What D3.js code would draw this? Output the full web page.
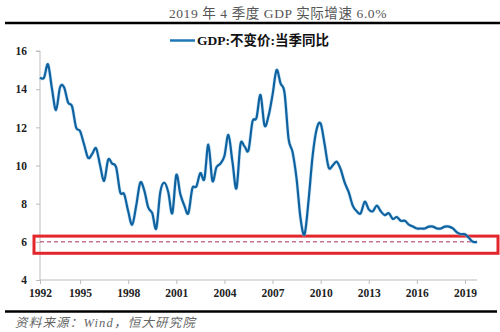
<!DOCTYPE html>
<html>
<head>
<meta charset="utf-8">
<script src="https://cdn.jsdelivr.net/npm/d3@7/dist/d3.min.js"></script>
<style>
  html, body { margin: 0; padding: 0; background: #fff; }
  svg { display: block; }
</style>
</head>
<body>
<svg id="chart" width="500" height="332"></svg>
<script>
// China real GDP, quarterly YoY growth (%), 1992Q3 – 2019Q4
const startYear = 1992;
const startQuarter = 3;
const gdpYoY = [
  14.6, 14.6, 15.3, 14.0, 12.9, 14.1, 14.1, 13.3, 13.1, 12.0,
  11.8, 11.1, 10.4, 10.6, 10.9, 10.0, 9.2, 10.3, 10.1, 9.9,
  8.6, 8.5, 7.6, 6.9, 7.9, 9.1, 8.7, 7.8, 7.5, 6.7,
  8.6, 9.1, 8.6, 7.5, 9.5, 8.5, 7.9, 7.5, 8.8, 8.9,
  9.6, 9.3, 11.1, 9.2, 9.9, 10.1, 10.5, 11.6, 10.2, 8.8,
  11.1, 11.0, 10.8, 12.3, 12.5, 13.7, 12.1, 12.6, 13.7, 15.0,
  14.3, 13.8, 11.4, 10.7, 9.3, 7.2, 6.4, 8.2, 10.5, 11.9,
  12.2, 11.1, 9.9, 10.0, 10.2, 9.8, 9.1, 8.6, 7.9, 7.6,
  7.5, 8.1, 7.7, 7.6, 7.9, 7.6, 7.4, 7.5, 7.2, 7.3,
  7.1, 7.1, 6.9, 6.8, 6.7, 6.7, 6.7, 6.8, 6.8, 6.7,
  6.7, 6.8, 6.8, 6.7, 6.5, 6.4, 6.4, 6.2, 6.0, 6.0
];
const yTicks = [4, 6, 8, 10, 12, 14, 16];
const tickYears = ["1992", "1995", "1998", "2001", "2004", "2007", "2010", "2013", "2016", "2019"];
const referenceLevel = 6.0;
const bandRange = [5.4, 6.3];

const titleText = "2019 年 4 季度 GDP 实际增速 6.0%";
const legendText = "GDP:不变价:当季同比";
const sourceText = "资料来源：Wind，恒大研究院";

// quarter labels for each observation
const quarters = gdpYoY.map((_, i) => {
  const q = startQuarter - 1 + i;
  return { year: startYear + Math.floor(q / 4), q: (q % 4) + 1 };
});

const svg = d3.select("#chart");
const serif = "'Liberation Serif', 'Times New Roman', 'Noto Sans CJK SC', serif";

const x = d3.scaleLinear().domain([0, gdpYoY.length - 1]).range([40, 477]);
const y = d3.scaleLinear().domain([4, 16]).range([280, 51]);

// header
svg.append("text")
  .attr("x", 278).attr("y", 18)
  .attr("text-anchor", "middle")
  .attr("font-family", serif)
  .attr("font-size", 13.5)
  .attr("fill", "#555")
  .attr("letter-spacing", 0.6)
  .text(titleText);

svg.append("line")
  .attr("x1", 5).attr("x2", 500).attr("y1", 23).attr("y2", 23)
  .attr("stroke", "#000").attr("stroke-width", 2.5);

// legend
svg.append("line")
  .attr("x1", 170).attr("x2", 195).attr("y1", 40.5).attr("y2", 40.5)
  .attr("stroke", "#1f78b8").attr("stroke-width", 2.5);
svg.append("text")
  .attr("x", 197).attr("y", 45)
  .attr("font-family", serif)
  .attr("font-size", 13.5)
  .attr("font-weight", "bold")
  .attr("fill", "#111")
  .text(legendText);

// y axis
const yAxis = svg.append("g")
  .attr("transform", "translate(40,0)")
  .call(d3.axisLeft(y).tickValues(yTicks).tickSize(4).tickPadding(9).tickFormat(d3.format("d")));
yAxis.select(".domain").attr("stroke", "#bdbdbd").attr("d", `M-4,${y(16)}H0V${y(4)}`);
yAxis.selectAll(".tick line").attr("stroke", "#bdbdbd");
yAxis.selectAll(".tick text")
  .attr("font-family", serif).attr("font-size", 11.5).attr("font-weight", "bold").attr("fill", "#222");

// x axis
const tickIdx = tickYears.map(yr => quarters.findIndex(d => String(d.year) === yr));
const xAxis = svg.append("g")
  .attr("transform", `translate(0,${y(4)})`)
  .call(d3.axisBottom(x).tickValues(tickIdx).tickSize(4).tickPadding(5)
    .tickFormat(i => String(quarters[i].year)));
xAxis.select(".domain").attr("stroke", "#bdbdbd").attr("d", `M${x(0)},0H${x(gdpYoY.length - 1)}`);
xAxis.selectAll(".tick line").attr("stroke", "#bdbdbd");
xAxis.selectAll(".tick text")
  .attr("font-family", serif).attr("font-size", 11.5).attr("font-weight", "bold").attr("fill", "#222");

// 6% reference
svg.append("line")
  .attr("x1", x(0)).attr("x2", x(gdpYoY.length - 1))
  .attr("y1", y(referenceLevel)).attr("y2", y(referenceLevel))
  .attr("stroke", "#a8324f").attr("stroke-width", 1)
  .attr("stroke-dasharray", "4,3");

// highlight box around the 6% level
svg.append("rect")
  .attr("x", 34).attr("y", y(bandRange[1]))
  .attr("width", 464).attr("height", y(bandRange[0]) - y(bandRange[1]))
  .attr("fill", "none")
  .attr("stroke", "#e3262b").attr("stroke-width", 3);

// series
const line = d3.line()
  .x((d, i) => x(i))
  .y(d => y(d))
  .curve(d3.curveCatmullRom.alpha(0));

svg.append("path")
  .datum(gdpYoY)
  .attr("d", line)
  .attr("fill", "none")
  .attr("stroke", "#9fd0ee").attr("stroke-width", 3.6).attr("opacity", 0.5);
svg.append("path")
  .datum(gdpYoY)
  .attr("d", line)
  .attr("fill", "none")
  .attr("stroke", "#0f62a0").attr("stroke-width", 2.2)
  .attr("stroke-linejoin", "round");

// footer
svg.append("line")
  .attr("x1", 5).attr("x2", 497).attr("y1", 311.5).attr("y2", 311.5)
  .attr("stroke", "#000").attr("stroke-width", 2.5);
svg.append("text")
  .attr("x", 15).attr("y", 327)
  .attr("font-family", serif)
  .attr("font-size", 12.5)
  .attr("font-style", "italic")
  .attr("letter-spacing", 1.2)
  .attr("fill", "#666")
  .text(sourceText);
</script>
</body>
</html>
